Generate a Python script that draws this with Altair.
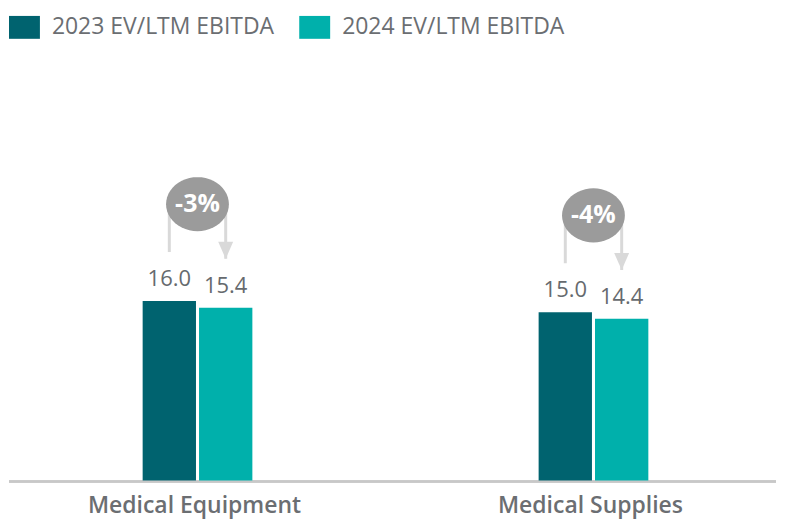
import math
import altair as alt
import pandas as pd

categories = ["Medical Equipment", "Medical Supplies"]
series = ["2023 EV/LTM EBITDA", "2024 EV/LTM EBITDA"]
values_2023 = [16.0, 15.0]
values_2024 = [15.4, 14.4]
changes = ["-3%", "-4%"]
colors = ["#00636f", "#00b0ab"]

rows = []
for i, c in enumerate(categories):
    top = max(values_2023[i], values_2024[i])
    rows.append({"cat": c, "series": series[0], "value": values_2023[i], "top": top})
    rows.append({"cat": c, "series": series[1], "value": values_2024[i], "top": top})
df = pd.DataFrame(rows)

ann = pd.DataFrame({
    "cat": categories,
    "top": [max(a, b) for a, b in zip(values_2023, values_2024)],
    "label": changes,
})

FONT = "Open Sans"
GRAY = "#6b6e72"
W, H = 769, 459
BANDPOS = 0.508

# ellipse outline as a custom symbol path (unit box -1..1)
pts = []
for k in range(48):
    a = 2 * math.pi * k / 48
    pts.append(f"{math.cos(a):.4f},{0.86 * math.sin(a):.4f}")
ELLIPSE = "M" + "L".join(pts) + "Z"

x_scale = alt.Scale(paddingInner=0.063, paddingOuter=0)
x_enc = alt.X("cat:N", sort=categories, scale=x_scale,
              axis=alt.Axis(title=None, labelAngle=0, ticks=False, domain=False,
                            labelFontSize=23, labelFontWeight=600, bandPosition=BANDPOS,
                            labelColor=GRAY, labelPadding=14, labelFont=FONT,
                            labelLimit=400))
x_ann = alt.X("cat:N", sort=categories, bandPosition=BANDPOS)
xo_enc = alt.XOffset("series:N", sort=series,
                     scale=alt.Scale(range=[134, 244], paddingInner=0.054, paddingOuter=0))
y_enc = alt.Y("value:Q", scale=alt.Scale(domain=[0, 40.8], nice=False), axis=None)

base = alt.Chart(df)

baseline = base.mark_rule(color="#c8c8c8", strokeWidth=2).encode(
    x=alt.value(0), x2=alt.value(W), y=alt.value(H + 1))

bars = base.mark_bar().encode(
    x=x_enc, xOffset=xo_enc, y=y_enc,
    color=alt.Color("series:N", sort=series,
                    scale=alt.Scale(domain=series, range=colors),
                    legend=alt.Legend(title=None, orient="none", legendX=0, legendY=-11,
                                      direction="horizontal",
                                      symbolType="M-1,-0.74L1,-0.74L1,0.74L-1,0.74Z",
                                      symbolSize=961, symbolStrokeWidth=0,
                                      symbolOpacity=1, labelLimit=400,
                                      labelFontSize=23, labelColor=GRAY, labelFont=FONT,
                                      labelOffset=12, columnPadding=25, padding=0)),
)

value_labels = base.mark_text(baseline="bottom", dy=-10, fontSize=22, color="#666a6e",
                              font=FONT).encode(
    x=x_enc, xOffset=xo_enc, y=y_enc, text=alt.Text("value:Q", format=".1f"))

rules = base.mark_rule(color="#d9d9d9", strokeWidth=3, yOffset=-49, y2Offset=-97).encode(
    x=x_enc, xOffset=xo_enc, y=y_enc, y2="top:Q")

arrows = base.transform_filter(alt.datum.series == series[1]).mark_point(
    shape="M-0.88,-1L0.88,-1L0,1Z", size=289, filled=True, color="#d9d9d9",
    opacity=1, yOffset=-57.5).encode(x=x_enc, xOffset=xo_enc, y=y_enc)

ann_base = alt.Chart(ann)
ell = ann_base.mark_point(
    shape=ELLIPSE, size=3969, filled=True, strokeWidth=0,
    color="#9b9b9b", opacity=1, yOffset=-97).encode(x=x_ann, y=alt.Y("top:Q"))
ann_text = ann_base.mark_text(fontSize=25, fontWeight="bold", color="white", font=FONT,
                              yOffset=-97, baseline="middle").encode(
    x=x_ann, y=alt.Y("top:Q"), text="label:N")

chart = alt.layer(baseline, bars, value_labels, rules, arrows, ell, ann_text).properties(
    width=W, height=H, padding={"left": 0, "top": 3, "right": 0, "bottom": 4}
).configure(font=FONT).configure_view(stroke=None)

chart.save("out.html", embed_options={"renderer": "svg", "actions": False})
